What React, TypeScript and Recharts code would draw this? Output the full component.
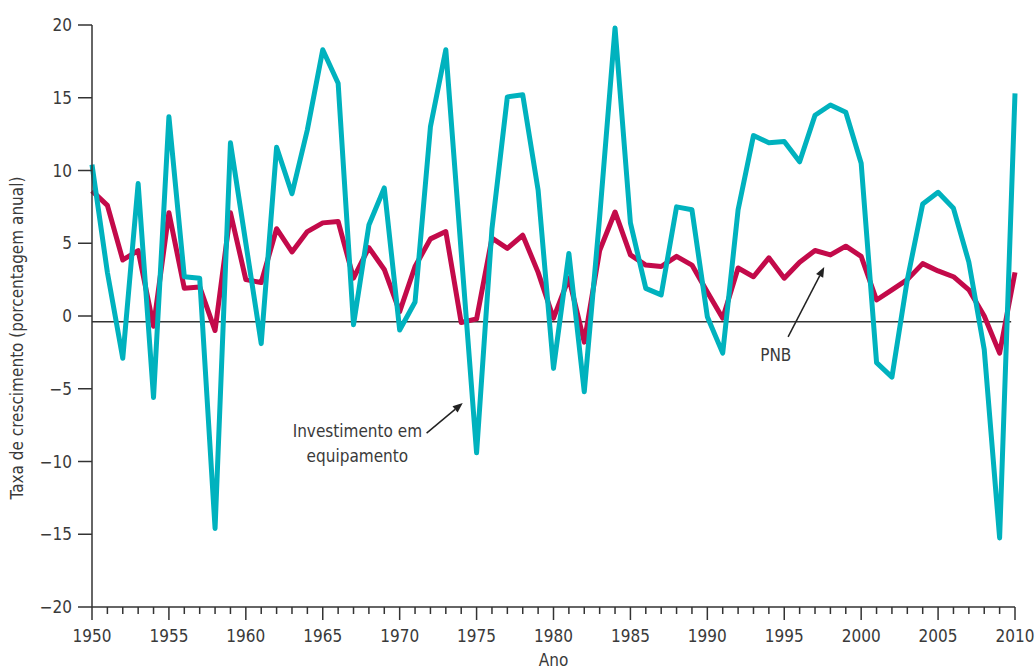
import React from 'react';
import { LineChart, Line, XAxis, YAxis, ReferenceLine, ReferenceDot } from 'recharts';

const years: number[] = [];
for (let y = 1950; y <= 2010; y++) years.push(y);

const pnb = [
  8.6, 7.6, 3.85, 4.5, -0.7, 7.1, 1.9, 2.0, -1.0, 7.1,
  2.5, 2.3, 6.0, 4.4, 5.8, 6.4, 6.5, 2.6, 4.7, 3.2,
  0.3, 3.4, 5.3, 5.8, -0.45, -0.2, 5.35, 4.65, 5.55, 3.0,
  -0.15, 2.6, -1.8, 4.5, 7.15, 4.2, 3.5, 3.4, 4.1, 3.5,
  1.65, -0.15, 3.3, 2.7, 4.0, 2.6, 3.7, 4.5, 4.2, 4.8,
  4.1, 1.1, 1.8, 2.5, 3.6, 3.1, 2.7, 1.8, 0.0, -2.55,
  3.0,
];

const investimento = [
  10.4, 3.0, -2.9, 9.1, -5.6, 13.7, 2.7, 2.6, -14.6, 11.9,
  5.0, -1.9, 11.6, 8.4, 12.8, 18.3, 16.0, -0.6, 6.25, 8.8,
  -0.96, 0.96, 13.0, 18.3, 4.4, -9.4, 6.0, 15.06, 15.2, 8.65,
  -3.6, 4.3, -5.2, 6.8, 19.8, 6.4, 1.9, 1.45, 7.5, 7.3,
  -0.05, -2.55, 7.3, 12.4, 11.9, 12.0, 10.6, 13.8, 14.5, 14.0,
  10.5, -3.2, -4.2, 2.5, 7.7, 8.5, 7.4, 3.7, -2.3, -15.25,
  15.3,
];

const yTicks = [-20, -15, -10, -5, 0, 5, 10, 15, 20];

const data = years.map((year, i) => ({ year, pnb: pnb[i], inv: investimento[i] }));

const FONT = "'Liberation Sans Narrow', 'Arial Narrow', 'DejaVu Sans Condensed', sans-serif";
const FS = 17;
const TEXT = '#3a3a3a';
const AXIS = '#333333';
const CYAN = '#00B2BE';
const RED = '#C30A4A';

const XTick = (props: any) => {
  const { x, y, payload } = props;
  const major = payload.value % 5 === 0;
  return (
    <g>
      <line x1={x} y1={y} x2={x} y2={y + (major ? 13 : 7)} stroke={AXIS} strokeWidth={1.5} />
      {major && (
        <text x={x} y={y + 35} textAnchor="middle" fill={TEXT} fontSize={FS} fontFamily={FONT}>
          {payload.value}
        </text>
      )}
    </g>
  );
};

const Arrow = (props: any) => {
  const { x1, y1, x2, y2 } = props;
  const ang = Math.atan2(y2 - y1, x2 - x1);
  const L = 10;
  const W = 4;
  const bx = x2 - L * Math.cos(ang);
  const by = y2 - L * Math.sin(ang);
  const px = -Math.sin(ang) * W;
  const py = Math.cos(ang) * W;
  return (
    <g>
      <line x1={x1} y1={y1} x2={bx} y2={by} stroke="#222" strokeWidth={1.5} />
      <polygon points={`${x2},${y2} ${bx + px},${by + py} ${bx - px},${by - py}`} fill="#222" />
    </g>
  );
};

const makeText = (lines: string[], anchor: string) => (p: any) => (
  <text x={p.cx} y={p.cy} textAnchor={anchor} fill={TEXT} fontSize={FS} fontFamily={FONT}>
    {lines.map((l, i) => (
      <tspan key={i} x={p.cx} dy={i === 0 ? 0 : 25}>
        {l}
      </tspan>
    ))}
  </text>
);

const YLabel = (p: any) => {
  const vb = p.viewBox || { x: 0, y: 25, width: 92, height: 582 };
  const cx = 23;
  const cy = vb.y + vb.height / 2 + 22;
  return (
    <text
      x={cx}
      y={cy}
      transform={`rotate(-90, ${cx}, ${cy})`}
      textAnchor="middle"
      fill={TEXT}
      fontSize={FS}
      fontFamily={FONT}
    >
      Taxa de crescimento (porcentagem anual)
    </text>
  );
};

const XLabel = (p: any) => {
  const vb = p.viewBox || { x: 92, y: 607, width: 923, height: 63 };
  const cx = vb.x + vb.width / 2;
  return (
    <text x={cx} y={666} textAnchor="middle" fill={TEXT} fontSize={FS} fontFamily={FONT}>
      Ano
    </text>
  );
};

export default function App() {
  return (
    <div style={{ position: 'absolute', left: 0, top: 0, width: 1036, height: 670, background: '#fff' }}>
      <LineChart width={1036} height={670} data={data} margin={{ top: 25, right: 21, bottom: 0, left: 0 }}>
        <XAxis
          dataKey="year"
          type="number"
          domain={[1950, 2010]}
          ticks={years}
          interval={0}
          tickSize={0}
          tickMargin={0}
          tick={<XTick />}
          axisLine={{ stroke: AXIS, strokeWidth: 1.5 }}
          height={63}
          label={<XLabel />}
        />
        <YAxis
          type="number"
          domain={[-20, 20]}
          ticks={yTicks}
          interval={0}
          width={92}
          tickSize={14}
          tickMargin={6}
          tickLine={{ stroke: AXIS, strokeWidth: 1.5 }}
          axisLine={{ stroke: AXIS, strokeWidth: 1.5 }}
          tick={{ fill: TEXT, fontSize: FS, fontFamily: FONT }}
          tickFormatter={(v: number) => (v < 0 ? '\u2212' + Math.abs(v) : String(v))}
          label={<YLabel />}
        />
        <ReferenceLine
          segment={[{ x: 1950, y: -0.4 }, { x: 2009.75, y: -0.4 }]}
          stroke={AXIS}
          strokeWidth={1.5}
        />
        <Line type="linear" dataKey="pnb" stroke={RED} strokeWidth={5} dot={false} strokeLinejoin="round" isAnimationActive={false} />
        <Line type="linear" dataKey="inv" stroke={CYAN} strokeWidth={5} dot={false} strokeLinejoin="round" isAnimationActive={false} />
        <ReferenceLine
          segment={[{ x: 1971.75, y: -8.05 }, { x: 1974.1, y: -5.98 }]}
          shape={<Arrow />}
        />
        <ReferenceLine
          segment={[{ x: 1995.25, y: -1.44 }, { x: 1997.6, y: 3.37 }]}
          shape={<Arrow />}
        />
        <ReferenceDot x={1967.25} y={-8.3} r={0} shape={makeText(['Investimento em', 'equipamento'], 'middle')} />
        <ReferenceDot x={1994.45} y={-3.1} r={0} shape={makeText(['PNB'], 'middle')} />
      </LineChart>
    </div>
  );
}
